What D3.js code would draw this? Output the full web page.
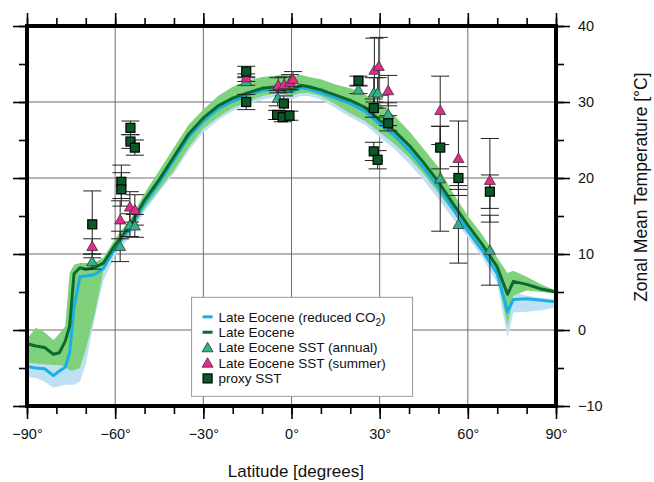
<!DOCTYPE html>
<html>
<head>
<meta charset="utf-8">
<script src="https://cdn.jsdelivr.net/npm/d3@7"></script>
<style>
  body { margin: 0; background: #fff; }
  svg { font-family: "Liberation Sans", Arial, Helvetica, sans-serif; }
  .grid line { stroke: #6e6e6e; stroke-width: 1; }
  .axis path { display: none; }
  .axis line { stroke: #000; stroke-width: 1.6; }
  .axis text { font-size: 14.5px; fill: #111; }
  .err line { stroke: #222; stroke-width: 1; }
</style>
</head>
<body>
<div id="chart"></div>
<script>
// latitude grid shared by the model curves
const lats = [-90,-87,-84,-81,-79,-77,-75.5,-74,-72,-70,-67,-64,-60,-55,-50,-45,-40,-35,-30,-25,-20,-15,-10,-5,-2,0,3,6,10,15,20,25,30,35,40,45,50,55,60,65,70,73.5,75.5,80,85,90]

// Late Eocene zonal mean SST and its spread
const eocene = [-1.8,-2.1,-2.3,-3.2,-3.0,-1.5,0.5,7.4,8.2,8.0,8.2,8.8,11.2,13.7,17.1,19.8,22.8,25.8,27.9,29.5,30.5,31.2,31.8,32.0,31.9,31.6,32.2,32.0,31.6,30.9,30.2,29.3,27.6,26.2,24.3,22.0,19.5,16.6,13.8,11.2,8.3,4.7,6.4,6.0,5.4,5.0]
const eoceneLo = [-4.3,-4.4,-4.5,-4.6,-4.6,-4.8,-5.3,-5.3,-5.0,-2.5,2.0,7.8,10.5,12.8,16.0,18.5,21.0,24.0,26.5,28.0,29.2,30.0,30.8,31.2,31.0,30.8,31.2,31.2,30.8,29.7,28.5,27.5,26.0,24.5,22.7,20.5,18.0,15.5,13.0,10.3,7.2,0.5,4.5,5.2,5.0,4.8]
const eoceneHi = [-1.2,0.3,-0.3,-1.3,-0.5,0.5,7.5,8.6,8.8,8.8,8.9,9.5,12.0,14.5,18.0,21.0,24.0,27.0,29.0,30.8,32.0,32.8,33.3,33.5,33.6,33.3,33.6,33.3,33.0,32.3,31.8,31.0,29.8,28.2,26.2,23.8,21.4,18.0,15.0,12.5,9.5,7.5,7.8,7.0,6.0,5.2]

// Late Eocene with reduced CO2
const reduced = [-4.8,-5.0,-5.1,-6.0,-5.4,-4.9,-3.0,3.0,7.0,7.1,7.3,8.1,10.8,13.3,16.7,19.4,22.4,25.4,27.5,29.1,30.1,30.9,31.5,31.7,31.6,31.3,31.9,31.7,31.2,30.5,29.8,28.8,27.1,25.6,23.6,21.3,18.8,15.9,13.0,10.4,7.4,2.4,4.0,4.1,3.9,3.7]
const reducedLo = [-6.2,-6.3,-6.8,-7.6,-7.4,-7.2,-7.2,-7.2,-6.8,-4.5,1.5,6.5,9.8,12.3,15.6,18.2,20.6,23.6,26.0,27.6,28.8,29.6,30.3,30.7,30.6,30.3,30.8,30.8,30.3,29.2,28.0,27.0,25.4,23.8,21.9,19.7,17.2,14.6,12.2,9.5,6.2,-1.0,2.3,2.4,2.6,3.0]
const reducedHi = [-3.8,-4.0,-4.2,-4.6,-4.3,-4.0,-1.0,5.0,7.5,7.6,7.8,8.8,11.5,14.0,17.5,20.5,23.5,26.5,28.6,30.3,31.5,32.3,32.8,33.0,33.0,32.8,33.1,32.8,32.5,31.8,31.2,30.4,29.0,27.5,25.5,23.0,20.6,17.4,14.2,11.8,8.8,4.5,5.0,4.5,4.2,4.0]

// proxy data: [latitude, temperature, error]
const sstAnnual = [[-67.8,9.0,1.0],[-58.3,11.0,2.0],[-55.0,13.8,1.5],[-53.3,13.7,1.5],[-15.4,32.7,0.5],[-4.7,30.5,1.0],[22.8,31.6,0.5],[28.0,31.2,2.0],[29.3,31.2,2.0],[32.9,28.4,1.5],[50.6,19.9,6.9],[56.8,13.9,5.1],[67.5,10.5,4.6]]
const sstSummer = [[-67.8,11.0,1.0],[-58.3,14.5,2.5],[-55.0,16.2,2.0],[-53.3,15.8,2.0],[-15.4,33.2,0.5],[-4.5,32.2,1.0],[-2.5,32.3,1.0],[-0.5,32.6,1.0],[0.5,33.0,1.0],[28.2,34.2,4.2],[29.7,34.7,3.8],[32.9,31.5,2.0],[50.6,28.9,4.5],[56.8,22.6,4.9],[67.5,19.7,5.5]]
const proxySST = [[-67.8,13.9,4.4],[-57.9,19.5,2.2],[-57.9,18.5,2.2],[-54.8,26.6,0.9],[-54.8,24.8,0.9],[-53.3,24.0,1.0],[-15.4,34.0,0.7],[-15.4,30.0,1.0],[-2.6,29.8,1.0],[-4.9,28.3,0.6],[-3.0,28.0,0.6],[-0.7,28.2,0.6],[22.8,32.8,0.6],[28.0,29.2,1.2],[32.9,27.2,1.0],[28.0,23.5,1.2],[29.3,22.4,1.2],[50.6,24.0,2.8],[56.8,20.0,1.5],[67.5,18.2,2.2]]

const latTicks = [-90,-60,-30,0,30,60,90]
const tempTicks = [-10,0,10,20,30,40]

var margin = {top: 26, right: 98, bottom: 76, left: 27},
    width = 654 - margin.left - margin.right,
    height = 482 - margin.top - margin.bottom

var x = d3.scaleLinear().domain([-90, 90]).range([0, width])
var y = d3.scaleLinear().domain([-10, 40]).range([height, 0])

var svg = d3.select("#chart").append("svg")
  .attr("width", 654)
  .attr("height", 482)
  .append("g")
  .attr("transform", "translate(" + margin.left + "," + margin.top + ")")

// grid
svg.append("g").attr("class", "grid")
  .selectAll("line").data([-60,-30,0,30,60]).enter().append("line")
  .attr("x1", d => x(d)).attr("x2", d => x(d)).attr("y1", 0).attr("y2", height)
svg.append("g").attr("class", "grid")
  .selectAll("line").data([0,10,20,30]).enter().append("line")
  .attr("y1", d => y(d)).attr("y2", d => y(d)).attr("x1", 0).attr("x2", width)

// model spread bands
const rows = lats.map((d, i) => ({lat: d, e: eocene[i], eLo: eoceneLo[i], eHi: eoceneHi[i], r: reduced[i], rLo: reducedLo[i], rHi: reducedHi[i]}))

svg.append("path").datum(rows)
  .attr("fill", "#bfe0f4")
  .attr("d", d3.area().x(d => x(d.lat)).y0(d => y(d.rLo)).y1(d => y(d.rHi)))
svg.append("path").datum(rows)
  .attr("fill", "#7fd17c")
  .attr("d", d3.area().x(d => x(d.lat)).y0(d => y(d.eLo)).y1(d => y(d.eHi)))

svg.append("path").datum(rows)
  .attr("fill", "none").attr("stroke", "#17b1e6").attr("stroke-width", 3)
  .attr("stroke-linejoin", "round")
  .attr("d", d3.line().x(d => x(d.lat)).y(d => y(d.r)))
svg.append("path").datum(rows)
  .attr("fill", "none").attr("stroke", "#0b6b2c").attr("stroke-width", 3)
  .attr("stroke-linejoin", "round")
  .attr("d", d3.line().x(d => x(d.lat)).y(d => y(d.e)))

// error bars
const allPts = sstAnnual.concat(sstSummer, proxySST)
const err = svg.append("g").attr("class", "err").selectAll("g").data(allPts).enter().append("g")
err.append("line")
  .attr("x1", d => x(d[0])).attr("x2", d => x(d[0]))
  .attr("y1", d => y(d[1] - d[2])).attr("y2", d => y(d[1] + d[2]))
err.append("line")
  .attr("x1", d => x(d[0]) - 9).attr("x2", d => x(d[0]) + 9)
  .attr("y1", d => y(d[1] + d[2])).attr("y2", d => y(d[1] + d[2]))
err.append("line")
  .attr("x1", d => x(d[0]) - 9).attr("x2", d => x(d[0]) + 9)
  .attr("y1", d => y(d[1] - d[2])).attr("y2", d => y(d[1] - d[2]))

const tri = d3.symbol().type(d3.symbolTriangle).size(52)
svg.append("g").selectAll("path").data(sstAnnual).enter().append("path")
  .attr("d", tri)
  .attr("transform", d => "translate(" + x(d[0]) + "," + (y(d[1]) + 1) + ")")
  .attr("fill", "#2fb48a").attr("stroke", "#333").attr("stroke-width", 0.8)
svg.append("g").selectAll("path").data(sstSummer).enter().append("path")
  .attr("d", tri)
  .attr("transform", d => "translate(" + x(d[0]) + "," + (y(d[1]) + 1) + ")")
  .attr("fill", "#e8288c").attr("stroke", "#333").attr("stroke-width", 0.8)
svg.append("g").selectAll("rect").data(proxySST).enter().append("rect")
  .attr("x", d => x(d[0]) - 4.5).attr("y", d => y(d[1]) - 4.5)
  .attr("width", 9).attr("height", 9)
  .attr("fill", "#0a5a28").attr("stroke", "#000").attr("stroke-width", 1.2)

// legend
const legendItems = [
  {label: "Late Eocene (reduced CO", sub: "2", type: "line", color: "#17b1e6"},
  {label: "Late Eocene", type: "line", color: "#0b6b2c"},
  {label: "Late Eocene SST (annual)", type: "tri", color: "#2fb48a"},
  {label: "Late Eocene SST (summer)", type: "tri", color: "#e8288c"},
  {label: "proxy SST", type: "sq", color: "#0a5a28"}
]
const lg = svg.append("g").attr("transform", "translate(" + (x(-34)) + "," + (y(4.3)) + ")")
lg.append("rect").attr("width", 221).attr("height", 99)
  .attr("fill", "#fff").attr("stroke", "#999").attr("stroke-width", 1)
const li = lg.selectAll("g.item").data(legendItems).enter().append("g")
  .attr("transform", (d, i) => "translate(16," + (19.5 + i * 15.4) + ")")
li.filter(d => d.type === "line").append("line")
  .attr("x1", -5).attr("x2", 5).attr("stroke", d => d.color).attr("stroke-width", 3)
li.filter(d => d.type === "tri").append("path")
  .attr("d", tri).attr("transform", "translate(0,1)")
  .attr("fill", d => d.color).attr("stroke", "#333").attr("stroke-width", 0.8)
li.filter(d => d.type === "sq").append("rect")
  .attr("x", -4.5).attr("y", -4.5).attr("width", 9).attr("height", 9)
  .attr("fill", d => d.color).attr("stroke", "#000").attr("stroke-width", 1.2)
const lt = li.append("text").attr("x", 11).attr("dy", "0.35em")
  .style("font-size", "13.5px").attr("fill", "#111")
  .text(d => d.label)
lt.filter(d => d.sub).append("tspan").attr("dy", 4).style("font-size", "10px").text(d => d.sub)
lt.filter(d => d.sub).append("tspan").attr("dy", -4).text(")")

// axes
const fmtLat = d => (d < 0 ? "\u2212" : "") + Math.abs(d) + "\u00b0"
const fmtT = d => (d < 0 ? "\u2212" : "") + Math.abs(d)

svg.append("g").attr("class", "axis").attr("transform", "translate(0," + (height + 2) + ")")
  .call(d3.axisBottom(x).tickValues(d3.range(-90, 91, 10)).tickSize(6).tickFormat(""))
svg.append("g").attr("class", "axis").attr("transform", "translate(0," + (height + 2) + ")")
  .call(d3.axisBottom(x).tickValues(latTicks).tickSize(11).tickPadding(10).tickFormat(fmtLat))
svg.append("g").attr("class", "axis").attr("transform", "translate(0,-2)")
  .call(d3.axisTop(x).tickValues(d3.range(-90, 91, 10)).tickSize(6).tickFormat(""))
svg.append("g").attr("class", "axis").attr("transform", "translate(0,-2)")
  .call(d3.axisTop(x).tickValues(latTicks).tickSize(11).tickFormat(""))
svg.append("g").attr("class", "axis").attr("transform", "translate(-2,0)")
  .call(d3.axisLeft(y).tickValues(d3.range(-10, 41, 5)).tickSize(6).tickFormat(""))
svg.append("g").attr("class", "axis").attr("transform", "translate(-2,0)")
  .call(d3.axisLeft(y).tickValues(tempTicks).tickSize(12).tickFormat(""))
svg.append("g").attr("class", "axis").attr("transform", "translate(" + (width + 2) + ",0)")
  .call(d3.axisRight(y).tickValues(d3.range(-10, 41, 5)).tickSize(6).tickFormat(""))
svg.append("g").attr("class", "axis").attr("transform", "translate(" + (width + 2) + ",0)")
  .call(d3.axisRight(y).tickValues(tempTicks).tickSize(12).tickPadding(8).tickFormat(fmtT))

// frame
svg.append("rect").attr("width", width).attr("height", height)
  .attr("fill", "none").attr("stroke", "#000").attr("stroke-width", 4)

svg.append("text")
  .attr("x", x(1.5)).attr("y", height + 71)
  .attr("text-anchor", "middle").style("font-size", "17px").attr("fill", "#111")
  .text("Latitude [degrees]")
svg.append("text")
  .attr("transform", "translate(" + (width + 91) + "," + y(18.8) + ") rotate(-90)")
  .attr("text-anchor", "middle").style("font-size", "17.5px").attr("fill", "#111")
  .text("Zonal Mean Temperature [\u00b0C]")
</script>
</body>
</html>
